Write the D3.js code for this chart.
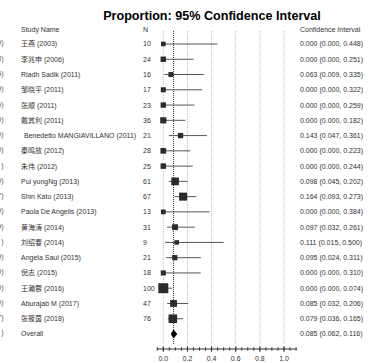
<!DOCTYPE html>
<html>
<head>
<meta charset="utf-8">
<script src="https://cdn.jsdelivr.net/npm/d3@7"></script>
<style>
    body { margin: 0; background: #fff; }
    text { font-family: "Liberation Sans", Arial, "Noto Sans CJK SC", sans-serif; }
</style>
</head>
<body>
<div id="root"></div>
<script>
// study rows
const studies = ["王燕 (2003)", "李兆申 (2006)", "Riadh Sadik (2011)", "邹晓平 (2011)", "张顺 (2011)", "戴其利 (2011)",
    "Benedetto MANGIAVILLANO (2011)", "秦鸣放 (2012)", "朱伟 (2012)", "Pui yungNg (2013)", "Shin Kato (2013)",
    "Paola De Angelis (2013)", "黄海涛 (2014)", "刘绍春 (2014)", "Angela Saul (2015)", "倪志 (2015)",
    "王瀚蓉 (2016)", "Aburajab M (2017)", "张筱茵 (2018)"];
const sizes = [10, 24, 16, 17, 23, 36, 21, 28, 25, 61, 67, 13, 31, 9, 21, 18, 100, 47, 76];
const estimates = [0.000, 0.000, 0.063, 0.000, 0.000, 0.000, 0.143, 0.000, 0.000, 0.098, 0.164, 0.000, 0.097, 0.111, 0.095, 0.000, 0.000, 0.085, 0.079];
const lowers = [0.000, 0.000, 0.009, 0.000, 0.000, 0.000, 0.047, 0.000, 0.000, 0.045, 0.093, 0.000, 0.032, 0.015, 0.024, 0.000, 0.000, 0.032, 0.036];
const uppers = [0.448, 0.251, 0.335, 0.322, 0.259, 0.182, 0.361, 0.223, 0.244, 0.202, 0.273, 0.384, 0.261, 0.500, 0.311, 0.310, 0.074, 0.206, 0.165];

// pooled result
const overall = { label: "Overall", est: 0.085, lo: 0.062, hi: 0.116 };

// axis ticks
const majorTicks = [0.0, 0.2, 0.4, 0.6, 0.8, 1.0];
const minorTicks = d3.range(-0.05, 1.1001, 0.05);

// clipped text of a neighbouring panel at the left edge
const edgeBits = ["0)", "8)", "5)", "9)", "5)", "0)", "0)", "0)", ")", "0)", "7)", "0)", "9)", ")", "9)", "0)", "0)", "0)", "7)", ")"];

const width = 380, height = 363;
const svg = d3.select("#root").append("svg")
    .attr("width", width)
    .attr("height", height);

const x = d3.scaleLinear().domain([0, 1]).range([163.3, 284]);
const y = d3.scalePoint().domain(d3.range(studies.length + 1)).range([44, 334]);
const boxSize = d3.scaleLinear().domain([0, 100]).range([4, 10]);

const fmt = d3.format(".3f");
const ciText = (e, l, h) => fmt(e) + " (" + fmt(l) + ", " + fmt(h) + ")";

svg.append("text")
    .attr("x", 212).attr("y", 20)
    .attr("text-anchor", "middle")
    .attr("font-size", 12.6)
    .attr("font-weight", "bold")
    .attr("fill", "#000")
    .text("Proportion: 95% Confidence Interval");

// headers
const header = svg.append("g").attr("font-size", 7).attr("fill", "#333");
header.append("text").attr("x", 21).attr("y", 31.5).text("Study Name");
header.append("text").attr("x", 143).attr("y", 31.5).text("N");
header.append("text").attr("x", 300).attr("y", 31.5).text("Confidence Interval");

// grid
svg.append("g").selectAll("line")
    .data(majorTicks)
    .enter()
    .append("line")
    .attr("x1", d => x(d)).attr("x2", d => x(d))
    .attr("y1", 31).attr("y2", 345)
    .attr("stroke", "#bdbdbd")
    .attr("stroke-dasharray", "1,1");

svg.append("line")
    .attr("x1", x(overall.est)).attr("x2", x(overall.est))
    .attr("y1", 31).attr("y2", 345)
    .attr("stroke", "#333")
    .attr("stroke-dasharray", "1,1");

// rows
const rows = svg.append("g").selectAll("g")
    .data(studies)
    .enter()
    .append("g");

rows.append("text")
    .attr("x", (d, i) => i === 6 ? 24 : 21)
    .attr("y", (d, i) => y(i))
    .attr("dy", "0.35em")
    .attr("font-size", 7)
    .attr("fill", "#333")
    .text(d => d);

rows.append("text")
    .attr("x", 143)
    .attr("y", (d, i) => y(i))
    .attr("dy", "0.35em")
    .attr("font-size", 7)
    .attr("fill", "#333")
    .text((d, i) => sizes[i]);

rows.append("text")
    .attr("x", 300)
    .attr("y", (d, i) => y(i))
    .attr("dy", "0.35em")
    .attr("font-size", 7)
    .attr("fill", "#333")
    .text((d, i) => ciText(estimates[i], lowers[i], uppers[i]));

rows.append("line")
    .attr("x1", (d, i) => x(lowers[i]))
    .attr("x2", (d, i) => x(uppers[i]))
    .attr("y1", (d, i) => y(i))
    .attr("y2", (d, i) => y(i))
    .attr("stroke", "#555")
    .attr("stroke-width", 1);

rows.append("rect")
    .attr("x", (d, i) => x(estimates[i]) - boxSize(sizes[i]) / 2)
    .attr("y", (d, i) => y(i) - boxSize(sizes[i]) / 2)
    .attr("width", (d, i) => boxSize(sizes[i]))
    .attr("height", (d, i) => boxSize(sizes[i]))
    .attr("fill", "#2b2b2b");

// overall row
const oy = y(studies.length);
svg.append("text")
    .attr("x", 21).attr("y", oy).attr("dy", "0.35em")
    .attr("font-size", 7).attr("fill", "#333")
    .text(overall.label);
svg.append("text")
    .attr("x", 300).attr("y", oy).attr("dy", "0.35em")
    .attr("font-size", 7).attr("fill", "#333")
    .text(ciText(overall.est, overall.lo, overall.hi));
svg.append("path")
    .attr("d", "M" + x(overall.lo) + "," + oy +
        "L" + x(overall.est) + "," + (oy - 4.5) +
        "L" + x(overall.hi) + "," + oy +
        "L" + x(overall.est) + "," + (oy + 4.5) + "Z")
    .attr("fill", "#000");

// edge fragments
svg.append("g").selectAll("text")
    .data(edgeBits)
    .enter()
    .append("text")
    .attr("x", 3.5)
    .attr("y", (d, i) => y(i) - 1)
    .attr("dy", "0.35em")
    .attr("text-anchor", "end")
    .attr("font-size", 7)
    .attr("fill", "#555")
    .text(d => d);

// axis
const axisY = 349;
const axisG = svg.append("g").attr("transform", "translate(0," + axisY + ")");
axisG.append("line")
    .attr("x1", x(-0.052)).attr("x2", x(1.105))
    .attr("stroke", "#333");
axisG.selectAll("line.minor")
    .data(minorTicks)
    .enter()
    .append("line")
    .attr("class", "minor")
    .attr("x1", d => x(d)).attr("x2", d => x(d))
    .attr("y1", -1.7).attr("y2", 1.7)
    .attr("stroke", "#333");
axisG.selectAll("line.major")
    .data(majorTicks)
    .enter()
    .append("line")
    .attr("class", "major")
    .attr("x1", d => x(d)).attr("x2", d => x(d))
    .attr("y1", -2.8).attr("y2", 2.8)
    .attr("stroke", "#333");
axisG.selectAll("text")
    .data(majorTicks)
    .enter()
    .append("text")
    .attr("x", d => x(d))
    .attr("y", 12)
    .attr("text-anchor", "middle")
    .attr("font-size", 7)
    .attr("fill", "#333")
    .text(d => d3.format(".1f")(d));
</script>
</body>
</html>
